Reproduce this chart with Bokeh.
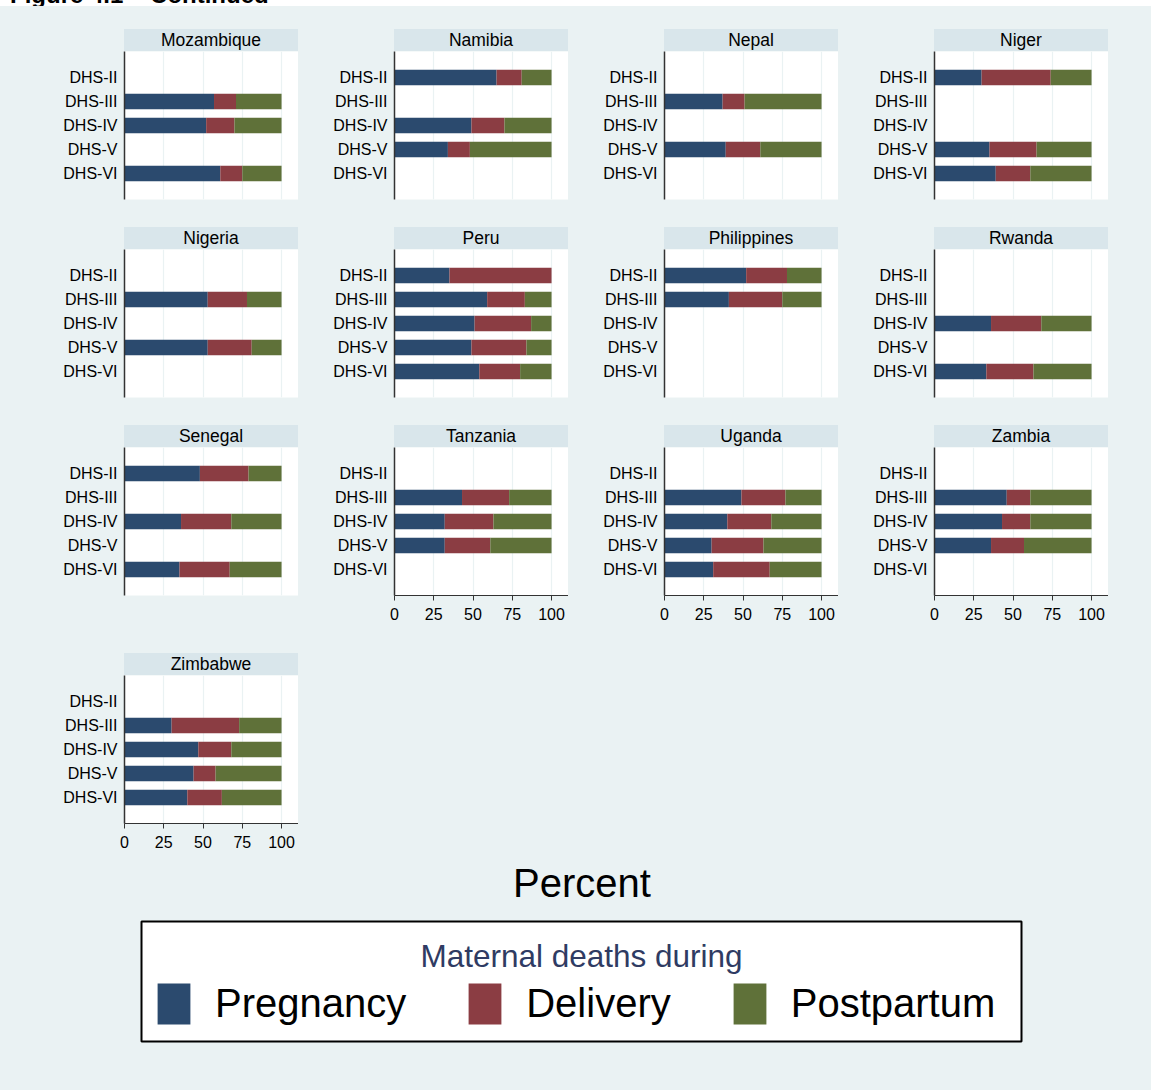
from bokeh.plotting import figure
from bokeh.layouts import column, row
from bokeh.models import (ColumnDataSource, FactorRange, Range1d, FixedTicker, Div,
                          Spacer, Legend, LegendItem, Label)
from bokeh.embed import file_html
from bokeh.resources import INLINE

# ---------------- data ----------------
surveys = ["DHS-II", "DHS-III", "DHS-IV", "DHS-V", "DHS-VI"]
countries = ["Mozambique", "Namibia", "Nepal", "Niger",
             "Nigeria", "Peru", "Philippines", "Rwanda",
             "Senegal", "Tanzania", "Uganda", "Zambia",
             "Zimbabwe"]
stages = ["Pregnancy", "Delivery", "Postpartum"]
x_ticks = [0, 25, 50, 75, 100]

country = ["Mozambique", "Mozambique", "Mozambique",
           "Namibia", "Namibia", "Namibia",
           "Nepal", "Nepal",
           "Niger", "Niger", "Niger",
           "Nigeria", "Nigeria",
           "Peru", "Peru", "Peru", "Peru", "Peru",
           "Philippines", "Philippines",
           "Rwanda", "Rwanda",
           "Senegal", "Senegal", "Senegal",
           "Tanzania", "Tanzania", "Tanzania",
           "Uganda", "Uganda", "Uganda", "Uganda",
           "Zambia", "Zambia", "Zambia",
           "Zimbabwe", "Zimbabwe", "Zimbabwe", "Zimbabwe"]
survey = ["DHS-III", "DHS-IV", "DHS-VI",
          "DHS-II", "DHS-IV", "DHS-V",
          "DHS-III", "DHS-V",
          "DHS-II", "DHS-V", "DHS-VI",
          "DHS-III", "DHS-V",
          "DHS-II", "DHS-III", "DHS-IV", "DHS-V", "DHS-VI",
          "DHS-II", "DHS-III",
          "DHS-IV", "DHS-VI",
          "DHS-II", "DHS-IV", "DHS-VI",
          "DHS-III", "DHS-IV", "DHS-V",
          "DHS-III", "DHS-IV", "DHS-V", "DHS-VI",
          "DHS-III", "DHS-IV", "DHS-V",
          "DHS-III", "DHS-IV", "DHS-V", "DHS-VI"]
pregnancy = [57, 52, 61,
             65, 49, 34,
             37, 39,
             30, 35, 39,
             53, 53,
             35, 59, 51, 49, 54,
             52, 41,
             36, 33,
             48, 36, 35,
             43, 32, 32,
             49, 40, 30, 31,
             46, 43, 36,
             30, 47, 44, 40]
delivery = [14, 18, 14,
            16, 21, 14,
            14, 22,
            44, 30, 22,
            25, 28,
            65, 24, 36, 35, 26,
            26, 34,
            32, 30,
            31, 32, 32,
            30, 31, 29,
            28, 28, 33, 36,
            15, 18, 21,
            43, 21, 14, 22]
postpartum = [29, 30, 25,
              19, 30, 52,
              49, 39,
              26, 35, 39,
              22, 19,
              0, 17, 13, 16, 20,
              22, 25,
              32, 37,
              21, 32, 33,
              27, 37, 39,
              23, 32, 37, 33,
              39, 39, 43,
              27, 32, 42, 38]

# ---------------- style ----------------
colors = ["#2B4A6E", "#8B3D43", "#5F7139"]
BG = "#EAF2F3"
STRIP = "#D9E6EB"
FONT = "Liberation Sans"
axis_panels = ["Tanzania", "Uganda", "Zambia", "Zimbabwe"]


def make_panel(name, bottom):
    idx = [i for i, c in enumerate(country) if c == name]
    src = ColumnDataSource(dict(
        survey=[survey[i] for i in idx],
        Pregnancy=[pregnancy[i] for i in idx],
        Delivery=[delivery[i] for i in idx],
        Postpartum=[postpartum[i] for i in idx],
    ))
    has_axis = name in axis_panels
    p = figure(width=270, height=148 + bottom,
               y_range=FactorRange(*surveys[::-1], range_padding=0.234),
               x_range=Range1d(0, 110.8),
               x_axis_location="below" if has_axis else None,
               output_backend="svg", toolbar_location=None,
               min_border_left=96, min_border_right=0, min_border_top=0,
               min_border_bottom=bottom,
               background_fill_color="white", border_fill_color=BG,
               outline_line_color=None)
    p.hbar_stack(stages, y="survey", height=0.65, fill_color=colors,
                 line_color=None, source=src)
    p.xgrid.ticker = FixedTicker(ticks=x_ticks)
    p.xgrid.grid_line_color = BG
    p.xgrid.grid_line_width = 1.2
    p.ygrid.grid_line_color = None

    ya = p.yaxis[0]
    ya.major_tick_line_color = None
    ya.major_tick_out = 0
    ya.major_tick_in = 0
    ya.minor_tick_line_color = None
    ya.axis_line_color = "#333333"
    ya.axis_line_width = 1.5
    ya.major_label_standoff = 7
    ya.major_label_text_font = FONT
    ya.major_label_text_font_size = "16px"
    ya.major_label_text_color = "black"

    if has_axis:
        xa = p.xaxis[0]
        xa.ticker = FixedTicker(ticks=x_ticks)
        xa.major_tick_in = 0
        xa.major_tick_out = 5
        xa.minor_tick_line_color = None
        xa.axis_line_color = "#333333"
        xa.major_tick_line_color = "#333333"
        xa.major_label_standoff = 7
        xa.major_label_text_font = FONT
        xa.major_label_text_font_size = "16px"
        xa.major_label_text_color = "black"

    header = Div(text=name, width=174, height=22, margin=(0, 0, 0, 96),
                 styles={"background-color": STRIP, "text-align": "center",
                         "font-size": "17.5px", "font-family": FONT,
                         "line-height": "22px", "color": "black"})
    return column(header, p, spacing=0)


bottoms = [28, 28, 58, 40]
rows = []
for r in range(4):
    names = countries[r * 4:(r + 1) * 4]
    panels = [make_panel(n, bottoms[r]) for n in names]
    rows.append(row(Spacer(width=28), *panels, spacing=0))

percent = Div(text="Percent", width=340, height=56, margin=(0, 0, 0, 412),
              styles={"font-size": "40px", "line-height": "40px",
                      "text-align": "center", "font-family": FONT,
                      "color": "black"})

# ---------------- legend box ----------------
lg = figure(width=884, height=124, x_range=Range1d(0, 1), y_range=Range1d(0, 1),
            toolbar_location=None, output_backend="svg",
            x_axis_location=None, y_axis_location=None,
            min_border_left=2, min_border_right=2, min_border_top=2,
            min_border_bottom=2,
            background_fill_color="white", border_fill_color=BG,
            outline_line_color="black", outline_line_width=2)
lg.grid.visible = False
nan = float("nan")
dummies = [lg.hbar(y=[nan], left=[nan], right=[nan], height=1,
                   fill_color=c, line_color=None)
           for c in colors]
legend = Legend(items=[LegendItem(label=s, renderers=[r]) for s, r in zip(stages, dummies)],
                location="bottom_left", orientation="horizontal",
                glyph_width=41, glyph_height=51, label_standoff=21, spacing=58,
                padding=0, margin=12, border_line_color=None,
                background_fill_alpha=0,
                label_text_font=FONT, label_text_font_size="40px",
                label_text_color="black")
lg.add_layout(legend)
lg.add_layout(Label(x=0.5, y=0.71, text="Maternal deaths during",
                    text_align="center", text_baseline="middle",
                    text_font=FONT, text_font_size="31.5px",
                    text_color="#2F3B63"))
legend_row = row(Spacer(width=139), lg, spacing=0)

title_div = Div(text='<div style="position:relative;top:-17px;left:10px;'
                     'white-space:nowrap">Figure 4.1 &ndash; Continued</div>',
                width=1151, height=6, margin=(0, 0, 0, 0),
                styles={"overflow": "hidden", "font-weight": "bold",
                        "font-size": "24px", "line-height": "24px",
                        "font-family": FONT, "background-color": "white",
                        "color": "black"})

body = column(Spacer(height=23), *rows, percent, legend_row, spacing=0,
              width=1151, height=1084, styles={"background-color": BG})
page = column(title_div, body, spacing=0, width=1151, height=1090)

open("out.html", "w").write(file_html(page, INLINE))
